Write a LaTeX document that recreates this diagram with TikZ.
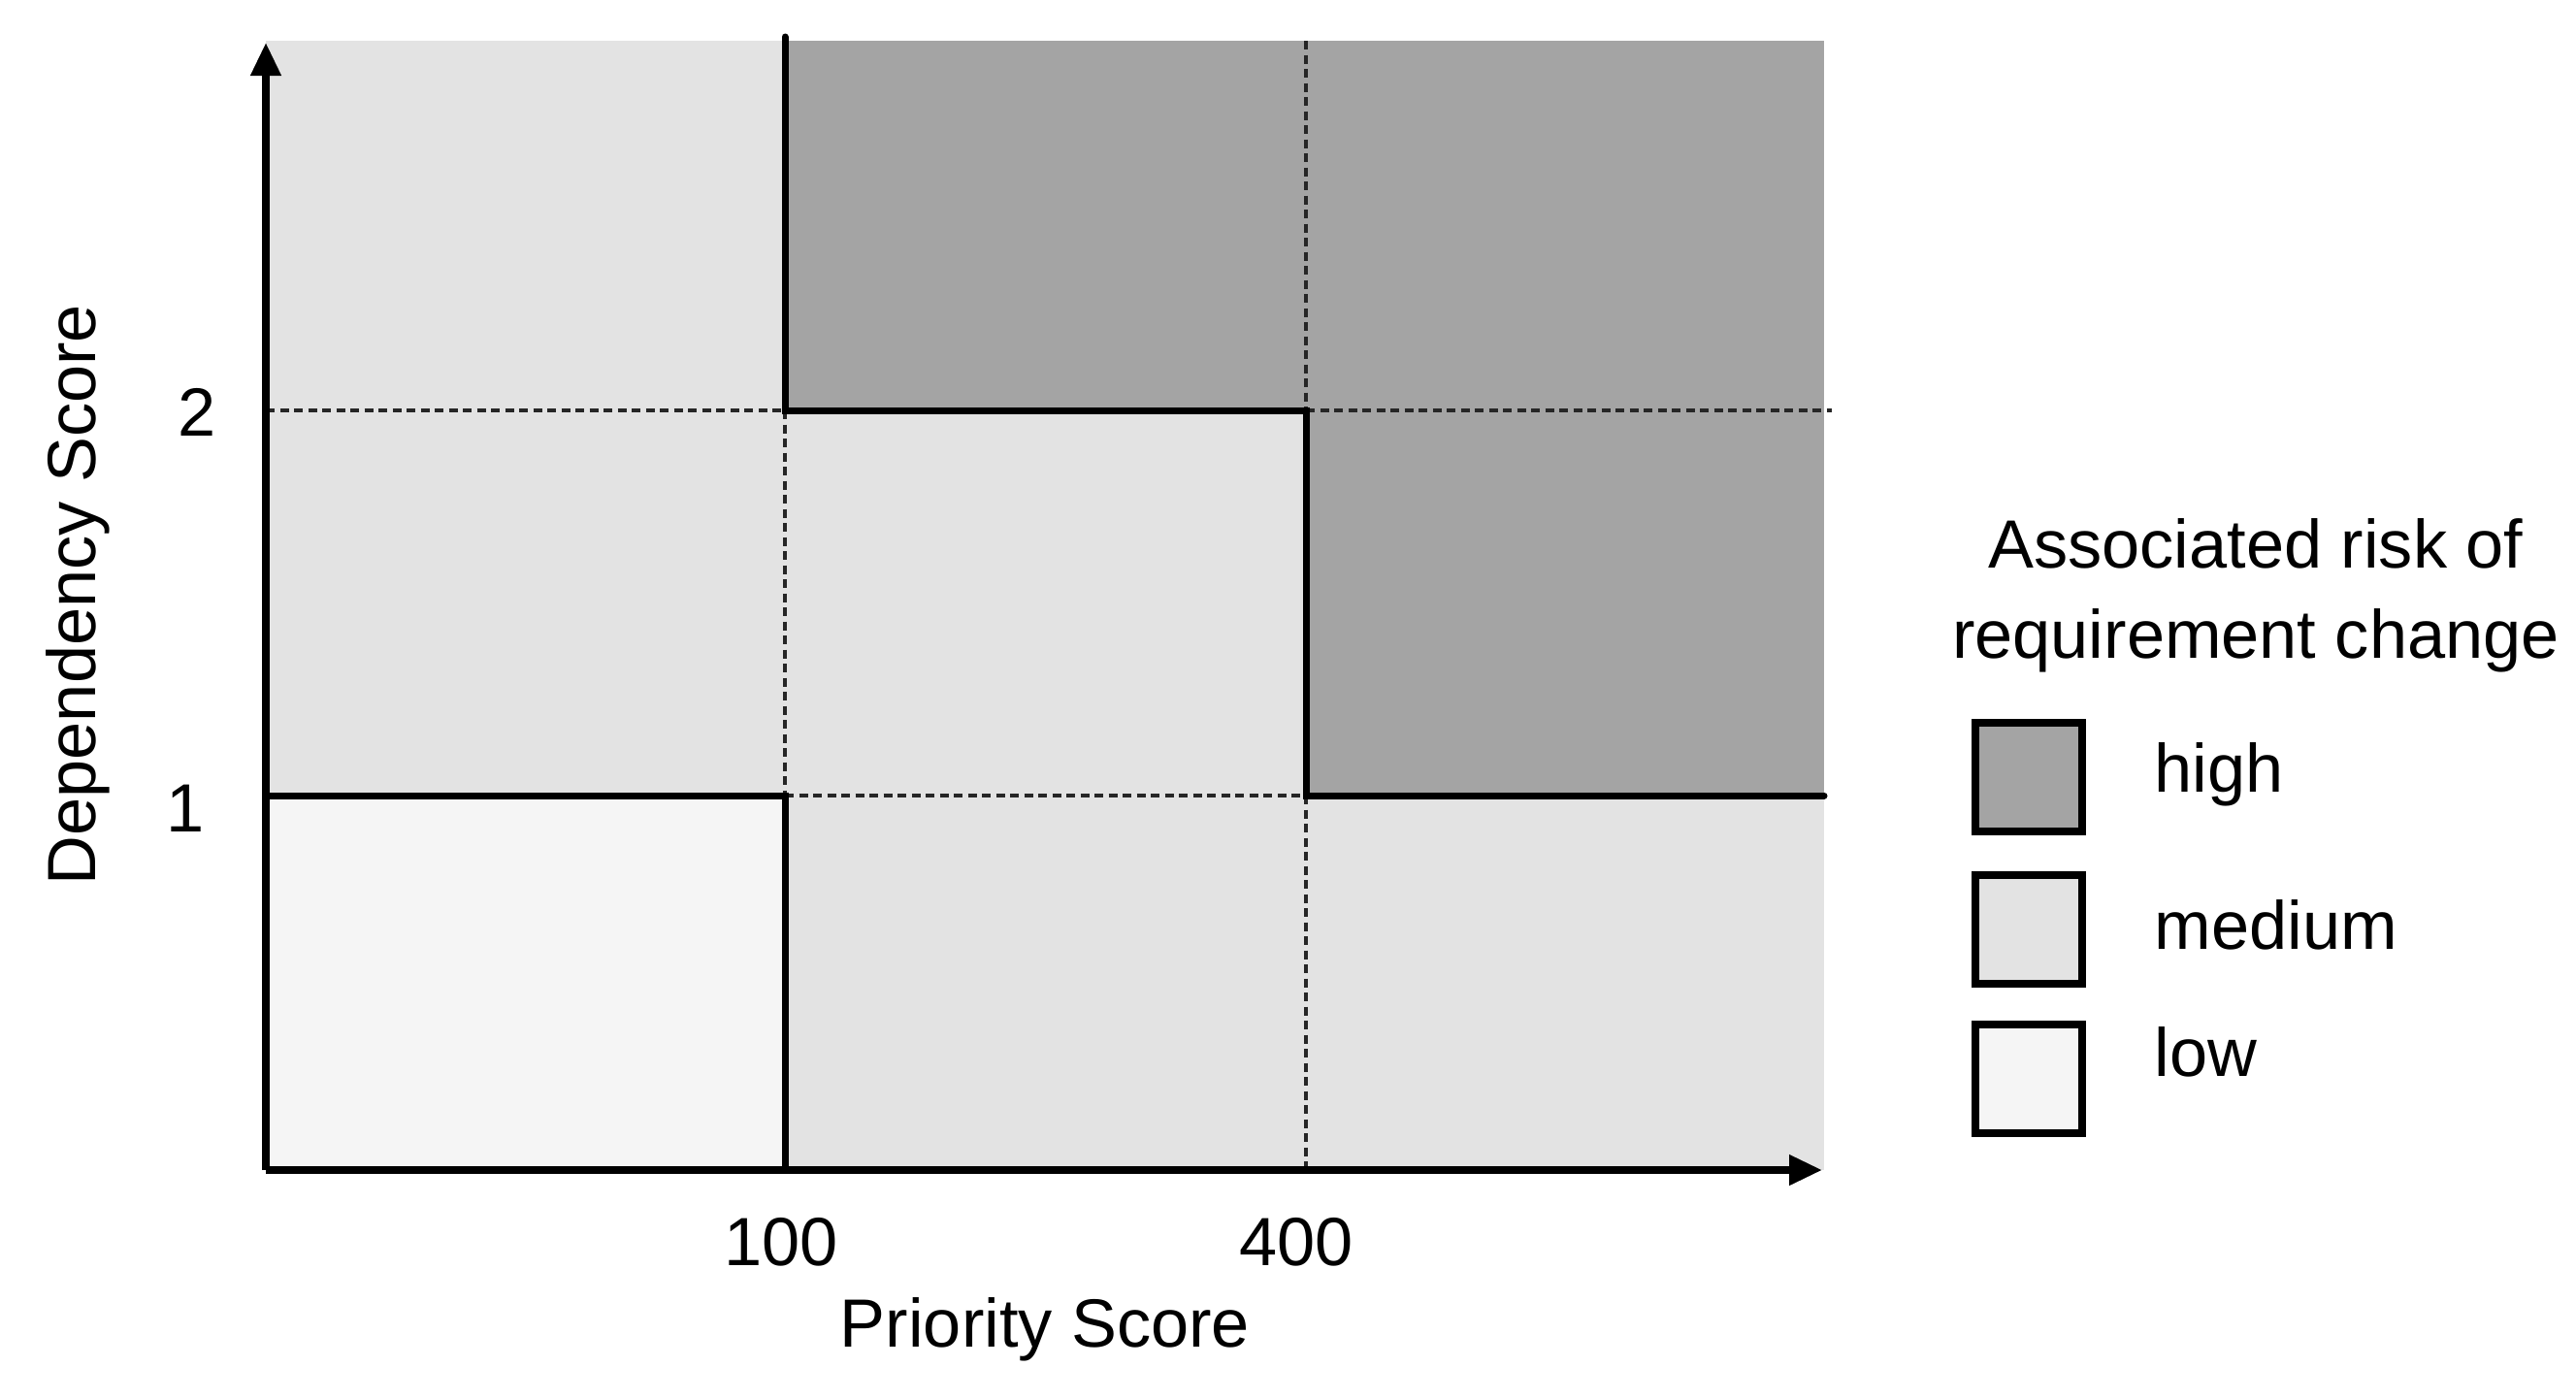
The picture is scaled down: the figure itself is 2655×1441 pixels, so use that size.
\documentclass[tikz,border=0pt]{standalone}
\usepackage{fontspec}
\setmainfont{Liberation Sans}
\usetikzlibrary{arrows.meta}
\definecolor{hi}{HTML}{A4A4A4}
\definecolor{me}{HTML}{E3E3E3}
\definecolor{lo}{HTML}{F5F5F5}
\tikzset{
  grid dash/.style={line width=0.035cm, dash pattern=on 0.09cm off 0.055cm, black!85},
  border/.style={line width=0.07cm, black, line cap=round, line join=miter},
  axis/.style={line width=0.075cm, black, -{Triangle[length=0.34cm,width=0.3cm]}},
  lbl/.style={font=\fontsize{20}{24}\selectfont, inner sep=0pt},
  legbox/.style={draw=black, line width=0.08cm, minimum width=1.1cm, minimum height=1.12cm, inner sep=0pt},
}
\begin{document}
\begin{tikzpicture}[x=0.01cm,y=-0.01cm]
\useasboundingbox (0,0) rectangle (2655,1441);
% regions
\fill[lo] (274,820) rectangle (809,1206);
\fill[me] (274,42) rectangle (809,820);
\fill[me] (809,423) rectangle (1346,1206);
\fill[hi] (809,42) rectangle (1346,423);
\fill[me] (1346,820) rectangle (1880,1206);
\fill[hi] (1346,42) rectangle (1880,820);
% coordinates
\coordinate (o) at (274,1206);
\coordinate (ytop) at (274,44);
\coordinate (xend) at (1878,1206);
% dashed grid
\draw[grid dash] (274,423) -- (809,423);
\draw[grid dash] (1346,423) -- (1888,423);
\draw[grid dash] (809,820) -- (1346,820);
\draw[grid dash] (809,423) -- (809,820);
\draw[grid dash] (1346,42) -- (1346,423);
\draw[grid dash] (1346,820) -- (1346,1206);
% thick borders
\draw[border] (809,38) -- (809,423) -- (1346,423) -- (1346,820) -- (1880,820);
\draw[border] (274,820) -- (809,820) -- (809,1206);
% axes
\draw[axis] (o) -- (ytop);
\draw[axis] (o) -- (xend);
% labels
\node[lbl] (t100) at (805,1280) {100};
\node[lbl] (t400) at (1336,1280) {400};
\node[lbl] (xlab) at (1077,1370) {Priority Score};
\node[lbl] (t2) at (203,425) {2};
\node[lbl] (t1) at (191,833) {1};
\node[lbl, rotate=90] (ylab) at (80,613) {Dependency Score};
% legend
\node[lbl] (lt1) at (2325,560) {Associated risk of};
\node[lbl] (lt2) at (2325,660) {requirement change};
\node[legbox, fill=hi] (bh) at (2091,801) {};
\node[legbox, fill=me] (bm) at (2091,958) {};
\node[legbox, fill=lo] (bl) at (2091,1112) {};
\node[lbl, anchor=west] (lh) at (2220,798) {high};
\node[lbl, anchor=west] (lm) at (2220,953) {medium};
\node[lbl, anchor=west] (ll) at (2220,1084) {low};
\end{tikzpicture}
\end{document}
